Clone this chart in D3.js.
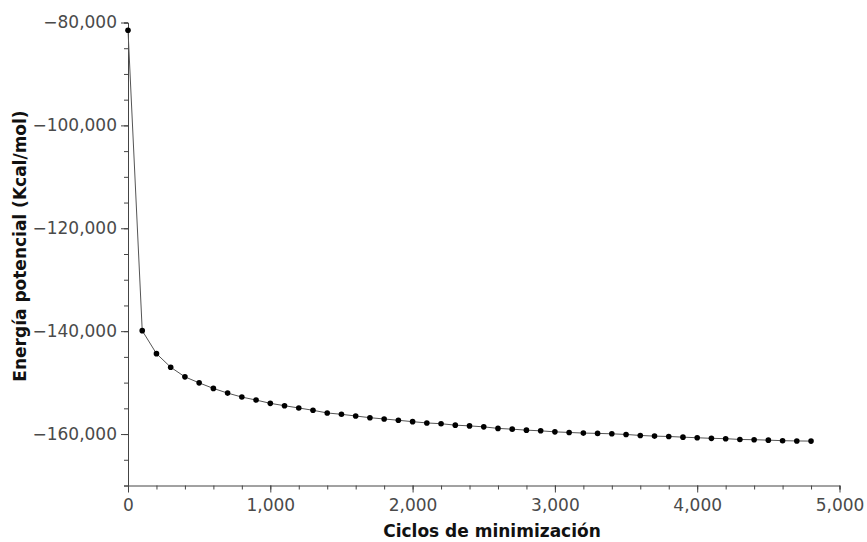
<!DOCTYPE html>
<html>
<head>
<meta charset="utf-8">
<script src="https://cdn.jsdelivr.net/npm/d3@7"></script>
<style>
  body { margin: 0; background: #fff; }
  .tick text { font-family: "DejaVu Sans", sans-serif; font-size: 17px; fill: #4a4a4a; }
  .axis path, .axis line { stroke: #444; }
  .title { font-family: "DejaVu Sans", sans-serif; font-weight: bold; font-size: 17px; fill: #111; }
</style>
</head>
<body>
<div id="chart"></div>
<script>
// minimization cycles (x) and potential energy (y)
var ciclos = [];
for (var c = 0; c <= 4800; c += 100) { ciclos.push(c); }

var energia = [
    -81500, -139900, -144370, -147010, -148880, -150050, -151130, -152040, -152810, -153390,
    -154030, -154490, -154930, -155380, -155900, -156160, -156490, -156820, -157070, -157320,
    -157590, -157840, -157990, -158270, -158410, -158600, -158900, -159050, -159240, -159370,
    -159570, -159690, -159810, -159870, -159950, -160080, -160270, -160400, -160470, -160600,
    -160720, -160830, -160900, -161050, -161100, -161180, -161290, -161340, -161370
];

var xMajor = [0, 1000, 2000, 3000, 4000, 5000];
var yMajor = [-160000, -140000, -120000, -100000, -80000];

var width = 867, height = 542;
var margin = { top: 22.5, left: 128, bottom: 56.5, right: 27.5 };

var svg = d3.select("#chart").append("svg")
    .attr("width", width)
    .attr("height", height);

var xScale = d3.scaleLinear()
    .domain([0, 5000])
    .range([margin.left, width - margin.right]);

var yScale = d3.scaleLinear()
    .domain([-170000, -80000])
    .range([height - margin.bottom, margin.top]);

var fmt = d3.format(",");

// minor ticks first, then the labelled major ones
svg.append("g")
    .attr("class", "axis")
    .attr("transform", "translate(0," + (height - margin.bottom) + ")")
    .call(d3.axisBottom(xScale).tickValues(d3.range(0, 5001, 200)).tickSize(4).tickFormat(""));

svg.append("g")
    .attr("class", "axis")
    .attr("transform", "translate(0," + (height - margin.bottom) + ")")
    .call(d3.axisBottom(xScale).tickValues(xMajor).tickSize(7).tickPadding(6).tickFormat(fmt))
    .select(".domain").remove();

svg.append("g")
    .attr("class", "axis")
    .attr("transform", "translate(" + margin.left + ",0)")
    .call(d3.axisLeft(yScale).tickValues(d3.range(-170000, -79999, 5000)).tickSize(4).tickFormat(""));

svg.append("g")
    .attr("class", "axis")
    .attr("transform", "translate(" + margin.left + ",0)")
    .call(d3.axisLeft(yScale).tickValues(yMajor).tickSize(7).tickPadding(4).tickFormat(fmt))
    .select(".domain").remove();

var pts = ciclos.map(function (d, i) { return [d, energia[i]]; });

var line = d3.line()
    .x(function (d) { return xScale(d[0]); })
    .y(function (d) { return yScale(d[1]); });

svg.append("path")
    .datum(pts)
    .attr("fill", "none")
    .attr("stroke", "#555")
    .attr("stroke-width", 1)
    .attr("d", line);

svg.selectAll(".dot")
    .data(pts)
    .enter().append("circle")
    .attr("class", "dot")
    .attr("cx", function (d) { return xScale(d[0]); })
    .attr("cy", function (d) { return yScale(d[1]); })
    .attr("r", 2.8)
    .attr("fill", "#000");

svg.append("text")
    .attr("class", "title")
    .attr("x", 492)
    .attr("y", 537)
    .attr("text-anchor", "middle")
    .text("Ciclos de minimización");

svg.append("text")
    .attr("class", "title")
    .attr("transform", "translate(26,246) rotate(-90)")
    .attr("text-anchor", "middle")
    .text("Energía potencial (Kcal/mol)");
</script>
</body>
</html>
